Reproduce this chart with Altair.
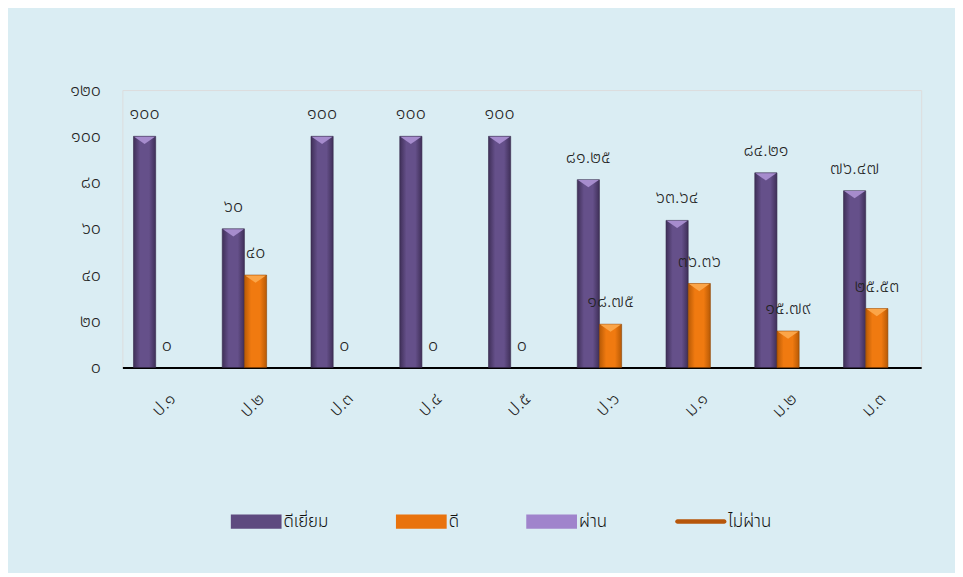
import altair as alt
import pandas as pd

categories = ['ป.๑', 'ป.๒', 'ป.๓', 'ป.๔', 'ป.๕', 'ป.๖', 'ม.๑', 'ม.๒', 'ม.๓']
series_names = ['ดีเยี่ยม', 'ดี', 'ผ่าน', 'ไม่ผ่าน']
series_colors = ['#5E4A7F', '#E9730D', '#A084CC', '#B7560A']
excellent = [100, 60, 100, 100, 100, 81.25, 63.64, 84.21, 76.47]
good = [0, 40, 0, 0, 0, 18.75, 36.36, 15.79, 25.53]
y_ticks = [0, 20, 40, 60, 80, 100, 120]

TH = str.maketrans('0123456789', '๐๑๒๓๔๕๖๗๘๙')


def th(v):
    return f"{v:g}".translate(TH)


y_tick_labels = [th(t) for t in y_ticks]

rows = []
for c, e, g in zip(categories, excellent, good):
    rows.append({'cat': c, 'series': series_names[0], 'value': e, 'label': th(e)})
    rows.append({'cat': c, 'series': series_names[1], 'value': g, 'label': th(g)})
df = pd.DataFrame(rows)
legend_df = pd.DataFrame({'series': series_names})

label_expr = " : ".join(f"datum.value == {t} ? '{l}'" for t, l in zip(y_ticks, y_tick_labels)) + " : ''"

FONT = 'Noto Sans Thai, Loma, Garuda, Noto Sans, sans-serif'
FW = 300
FS = 18

x = alt.X('cat:N', sort=categories,
          scale=alt.Scale(paddingInner=0.25, paddingOuter=0.125),
          axis=alt.Axis(title=None, labelAngle=-45, domain=True, domainColor='black',
                        domainWidth=2, ticks=False, labelPadding=22, labelOffset=0,
                        labelFontSize=FS, labelColor='#222', labelFont=FONT,
                        labelFontWeight=FW))
xo = alt.XOffset('series:N', scale=alt.Scale(domain=series_names[:3], paddingInner=0, paddingOuter=0))
y = alt.Y('value:Q', scale=alt.Scale(domain=[0, 120], nice=False),
          axis=alt.Axis(title=None, values=y_ticks, labelExpr=label_expr, grid=False,
                        ticks=False, domain=False, labelFontSize=FS, labelPadding=22,
                        labelColor='#222', labelFont=FONT, labelFontWeight=FW))


def grad(edge, mid):
    return alt.Gradient(gradient='linear', x1=0, x2=1, y1=0, y2=0, stops=[
        alt.GradientStop(color=edge, offset=0),
        alt.GradientStop(color=mid, offset=0.3),
        alt.GradientStop(color=mid, offset=0.7),
        alt.GradientStop(color=edge, offset=1)])


base = alt.Chart(df)

bar_ex = base.transform_filter(alt.datum.series == series_names[0]).mark_bar(
    fill=grad('#3F2F58', '#65508A'), stroke='#35284A', strokeWidth=0.6
).encode(x=x, xOffset=xo, y=y)

bar_good = base.transform_filter(
    (alt.datum.series == series_names[1]) & (alt.datum.value > 0)).mark_bar(
    fill=grad('#B85A05', '#F07A10'), stroke='#8A4204', strokeWidth=0.6
).encode(x=x, xOffset=xo, y=y)

tri_path = 'M-1,-0.35L1,-0.35L0,0.35Z'
tops = base.transform_filter(alt.datum.value > 0).mark_point(
    shape=tri_path, filled=True, size=440, yOffset=4, opacity=1, strokeWidth=0
).encode(x=x, xOffset=xo, y=y,
         fill=alt.condition(alt.datum.series == series_names[0],
                            alt.value('#A68CCD'), alt.value('#FBA548')))

labels = base.mark_text(dy=-22, fontSize=FS, color='#222', font=FONT, fontWeight=FW).encode(
    x=x, xOffset=xo, y=y, text='label:N')

rect_path = 'M-1,-0.28H1V0.28H-1Z'
line_path = 'M-0.92,-0.09H0.92A0.09,0.09 0 0 1 0.92,0.09H-0.92A0.09,0.09 0 0 1 -0.92,-0.09Z'
leg = alt.Legend(title=None, orient='none', legendX=109, legendY=408, direction='horizontal',
                 columnPadding=67, symbolSize=2600, symbolOpacity=1, symbolStrokeWidth=0,
                 labelFontSize=17, labelOffset=2, labelColor='#111', labelFont=FONT,
                 labelFontWeight=FW, labelLimit=200)
legend_layer = alt.Chart(legend_df).mark_point(filled=True, opacity=0).encode(
    color=alt.Color('series:N', scale=alt.Scale(domain=series_names, range=series_colors), legend=leg),
    shape=alt.Shape('series:N', scale=alt.Scale(domain=series_names,
                                                range=[rect_path, rect_path, rect_path, line_path]),
                    legend=leg))

chart = alt.layer(bar_ex, bar_good, tops, labels, legend_layer).properties(
    width=803, height=279,
    padding={'left': 115, 'top': 81, 'right': 34, 'bottom': 205},
    autosize='none',
    background='#DAEDF3'
).configure_view(fill='#DCE6F1', strokeWidth=0).configure(font=FONT)

chart.save("out.html", embed_options={"renderer": "svg", "actions": False})
